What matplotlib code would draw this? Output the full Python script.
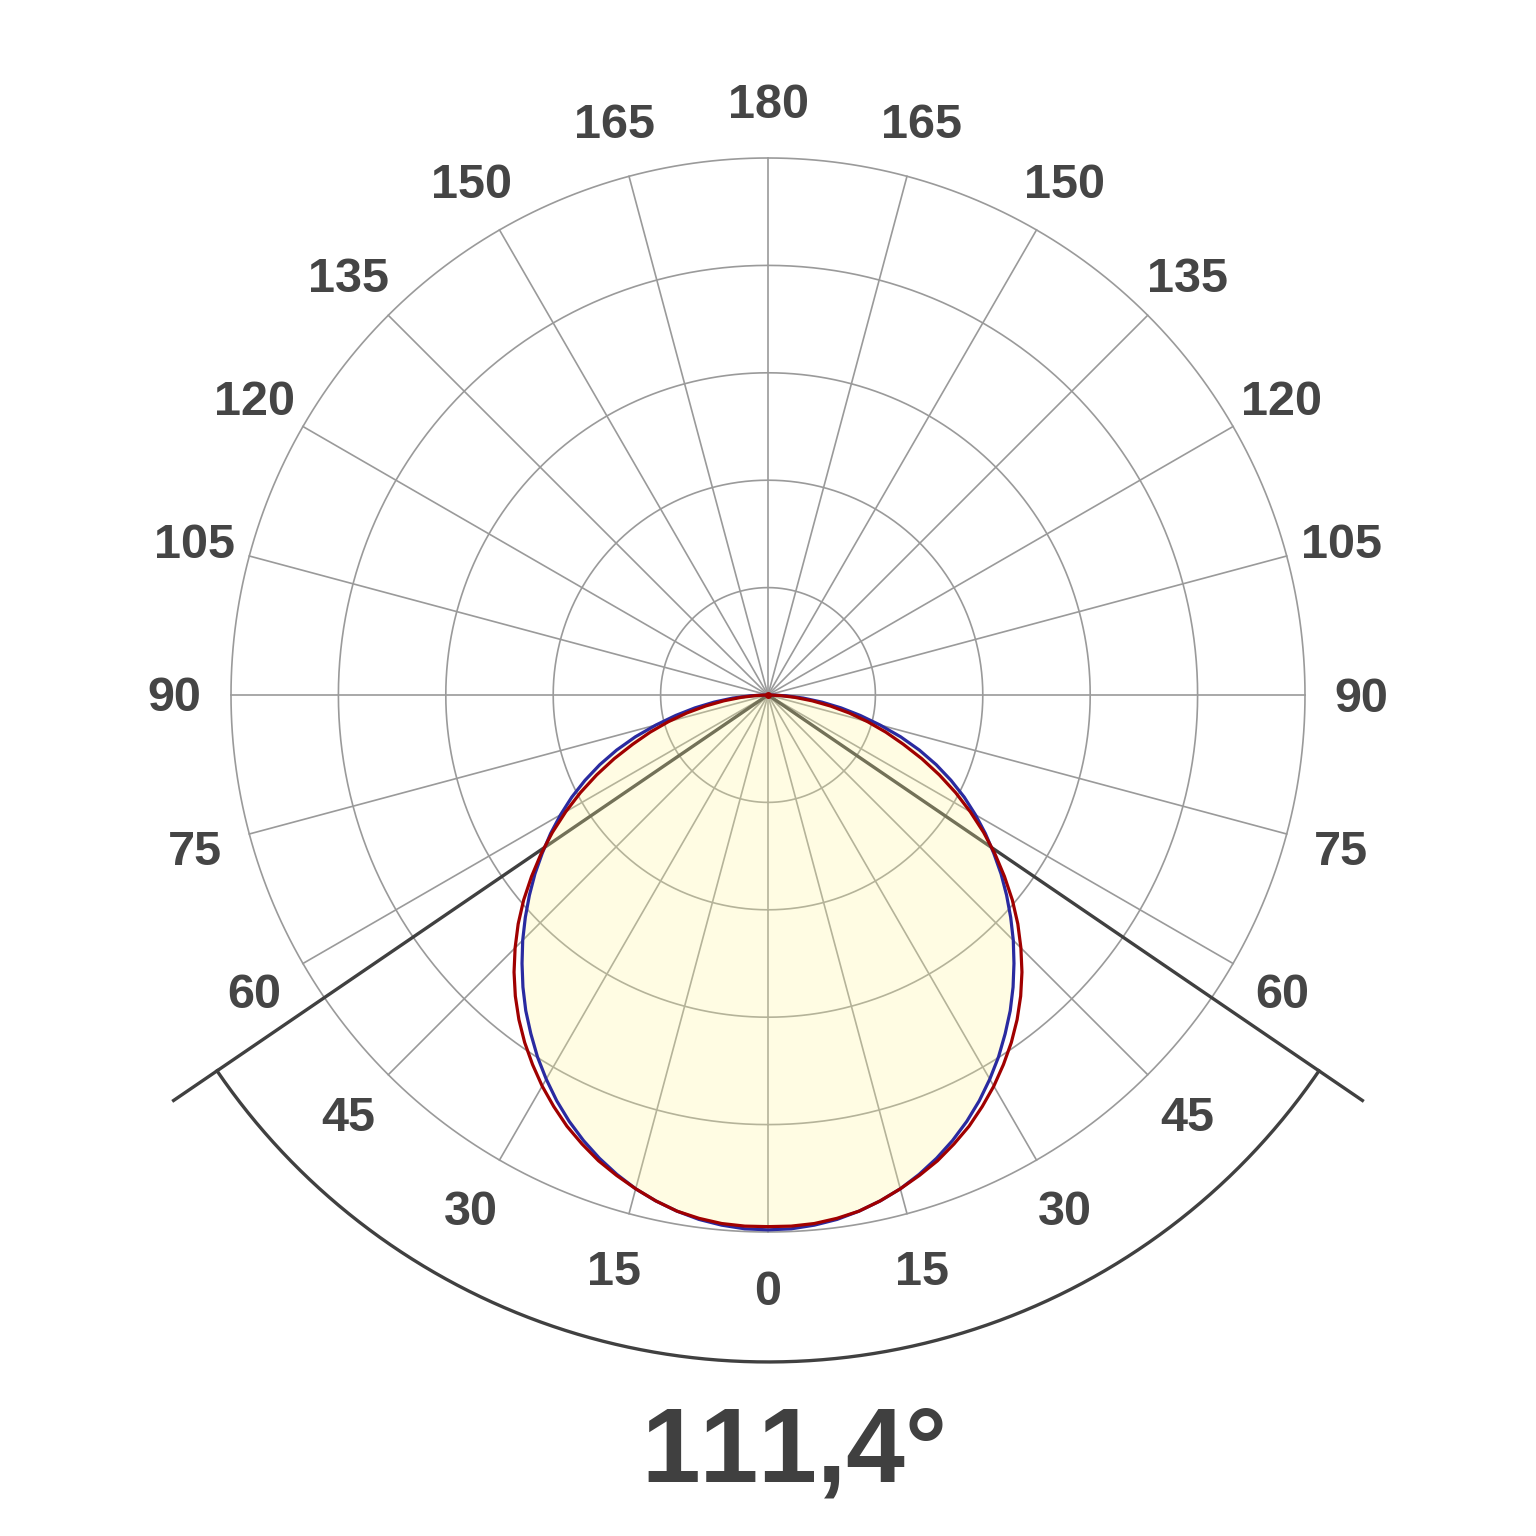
import numpy as np
import matplotlib
matplotlib.use("Agg")
import matplotlib.pyplot as plt
from matplotlib.transforms import offset_copy

# ---- data ----
angles_deg = [0, 2.5, 5, 7.5, 10, 12.5, 15, 17.5, 20, 22.5, 25, 27.5, 30, 32.5, 35, 37.5, 40, 42.5, 45,
              47.5, 50, 52.5, 55, 57.5, 60, 62.5, 65, 67.5, 70, 72.5, 75, 77.5, 80, 82.5, 85, 87.5, 90]
c0_c180 = [99.6, 99.5, 99.1, 98.5, 97.6, 96.5, 95.2, 93.6, 91.8, 89.8, 87.6, 85.2, 82.6, 79.9, 77.0, 74.1,
           71.0, 67.8, 64.6, 61.3, 58.0, 54.7, 51.3, 48.0, 44.6, 41.2, 37.6, 33.9, 30.0, 25.9, 21.6, 17.6,
           13.8, 10.1, 6.6, 3.3, 0.3]
c90_c270 = [99.0, 99.0, 98.8, 98.3, 97.6, 96.5, 95.2, 93.8, 92.3, 90.5, 88.6, 86.4, 84.1, 81.6, 79.0, 76.2,
            73.2, 70.0, 66.6, 63.1, 59.4, 55.5, 51.6, 47.6, 43.5, 39.4, 35.2, 31.0, 26.8, 23.0, 19.2, 15.5,
            11.8, 8.3, 5.0, 2.2, 0.3]
beam_angle = 111.4
ring_values = [20, 40, 60, 80, 100]
spoke_angles = list(range(0, 360, 15))
label_angles = list(range(-165, 181, 15))
label_texts = [str(abs(a)) for a in label_angles]

# ---- style ----
R_MAX = 140.0
text_color = "#454545"
grid_color = "#9a9a9a"
plt.rcParams['font.family'] = ['Liberation Sans', 'DejaVu Sans']
plt.rcParams['text.kerning_factor'] = 16  # effectively disable pair kerning

fig = plt.figure(figsize=(15.36, 15.36), dpi=100)
rad_px = 537 * R_MAX / 100.0
cx, cy = 768, 1536 - 695
ax = fig.add_axes([(cx - rad_px) / 1536, (cy - rad_px) / 1536, 2 * rad_px / 1536, 2 * rad_px / 1536],
                  projection='polar')
ax.set_theta_zero_location('S')
ax.set_theta_direction(1)
ax.set_ylim(0, R_MAX)
ax.grid(False)
ax.set_xticks([])
ax.set_yticks([])
ax.spines['polar'].set_visible(False)
ax.patch.set_visible(False)

# grid rings and spokes
tt = np.linspace(0, 2 * np.pi, 721)
for rv in ring_values:
    ax.plot(tt, np.full_like(tt, rv), color=grid_color, lw=1.2, zorder=1)
for sa in spoke_angles:
    ax.plot([np.deg2rad(sa)] * 2, [0, 100], color=grid_color, lw=1.2, zorder=1)

# beam lines and arc
half = np.deg2rad(beam_angle / 2)
for s in (-1, 1):
    ax.plot([0, s * half], [0, 134.3], color="#404040", lw=2.4, zorder=2, solid_capstyle='butt')
arc_t = np.linspace(-half, half, 300)
ax.plot(arc_t, np.full_like(arc_t, 124.2), color="#404040", lw=2.4, zorder=2)

# curves (mirrored)
a = np.array(angles_deg, dtype=float)
full_a = np.deg2rad(np.concatenate([-a[::-1], a[1:]]))
def mirror(v):
    v = np.array(v, dtype=float)
    return np.concatenate([v[::-1], v[1:]])
b = mirror(c0_c180)
r = mirror(c90_c270)
full_a_c = np.concatenate([[-np.pi / 2], full_a, [np.pi / 2]])
b_c = np.concatenate([[0], b, [0]])
r_c = np.concatenate([[0], r, [0]])

ax.fill(full_a_c, b_c, color=(1.0, 0.97, 0.6), alpha=0.27, lw=0, zorder=3)
ax.plot(full_a_c, b_c, color="#2a2aa0", lw=2.3, zorder=4, solid_joinstyle='round')
ax.plot(full_a_c, r_c, color="#a00000", lw=2.3, zorder=5, solid_joinstyle='round')
ax.plot([0], [0], 'o', color="#a00000", ms=4, zorder=6)

# angle labels
lab_tr = offset_copy(ax.transData, fig=fig, x=0, y=-4, units='dots')
for la, lt in zip(label_angles, label_texts):
    ax.text(np.deg2rad(la), 110.5, lt, ha='center', va='center', fontsize=35,
            fontweight='bold', color=text_color, zorder=7, transform=lab_tr)

fig.text(794 / 1536, (1536 - 1454) / 1536, f"{beam_angle:.1f}°".replace('.', ','),
         ha='center', va='center', fontsize=76, fontweight='bold', color="#404040")

fig.savefig("out.png", dpi=100, facecolor='white')
